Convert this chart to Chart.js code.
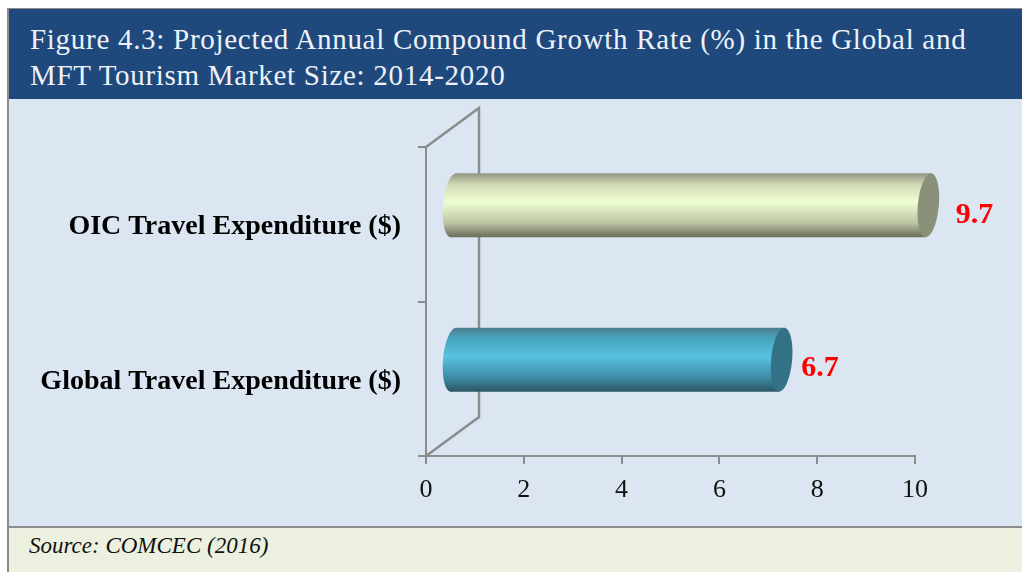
<!DOCTYPE html>
<html>
<head>
<meta charset="utf-8">
<script src="https://cdn.jsdelivr.net/npm/chart.js@4"></script>
<style>
  html, body { margin: 0; padding: 0; background: #fff; }
  #page { position: relative; width: 1022px; height: 572px; overflow: hidden; font-family: "Liberation Serif", serif; }
  #head { position: absolute; left: 9px; top: 9px; right: 0; height: 90px; background: #1f497d; color: #eef2f8; font-size: 29px; line-height: 36px; letter-spacing: 0.71px; }
  #head div { position: absolute; left: 21px; white-space: nowrap; }
  #plot { position: absolute; left: 9px; top: 99px; right: 0; height: 427px; background: #dce6f2; }
  #foot { position: absolute; left: 9px; top: 528px; right: 0; height: 44px; background: #ebf1de; color: #111; font-size: 23px; font-style: italic; }
  #foot span { position: absolute; left: 20px; top: 5px; white-space: nowrap; }
  #edgeL { position: absolute; left: 7px; top: 8px; width: 2px; bottom: 0; background: #8c8c8c; }
  #edgeT { position: absolute; left: 7px; top: 8px; right: 0; height: 1px; background: #8c8c8c; }
  #edgeB { position: absolute; left: 7px; top: 526px; right: 0; height: 2px; background: #8c8c8c; }
  canvas { position: absolute; left: 0; top: 0; }
</style>
</head>
<body>
<div id="page">
  <div id="head"><div style="top:12px">Figure 4.3: Projected Annual Compound Growth Rate (%) in the Global and</div><div style="top:48px">MFT Tourism Market Size: 2014-2020</div></div>
  <div id="plot"></div>
  <div id="foot"><span>Source: COMCEC (2016)</span></div>
  <div id="edgeL"></div><div id="edgeT"></div><div id="edgeB"></div>
  <canvas id="myChart" width="1022" height="572"></canvas>
</div>
<script>
const categories = ['OIC Travel Expenditure ($)', 'Global Travel Expenditure ($)'];
const growthRates = [9.7, 6.7];
const tubeStops = [
  ['#8f9482', '#d0d7b4', '#eeffd3', '#bcc3a2', '#676b59'],
  ['#4b7d90', '#48a5c0', '#57c2e2', '#3f8ba3', '#2b5566'],
];
const capColors = ['#8a917b', '#337286'];

const AXIS_GREY = '#8c8c8c';
const SERIF = '"Liberation Serif", serif';
const DEPTH_X = 53;
const DEPTH_Y = -39;
const labelGap = [17, 9];
const labelDrop = [10, 8];

// back wall of the fake 3d box
const wallPlugin = {
  id: 'wall',
  beforeDatasetsDraw(chart) {
    const { ctx, chartArea: a } = chart;
    ctx.save();
    ctx.strokeStyle = AXIS_GREY;
    ctx.lineWidth = 2.5;
    ctx.beginPath();
    ctx.moveTo(a.left, a.top);
    ctx.lineTo(a.left + DEPTH_X, a.top + DEPTH_Y);
    ctx.lineTo(a.left + DEPTH_X, a.bottom + DEPTH_Y);
    ctx.lineTo(a.left, a.bottom);
    ctx.stroke();
    ctx.restore();
  }
};

// bars come from the library, this turns each one into a tube
const tubePlugin = {
  id: 'tube',
  afterDatasetsDraw(chart) {
    const ctx = chart.ctx;
    chart.getDatasetMeta(0).data.forEach((bar, i) => {
      const x0 = bar.base + DEPTH_X / 2;
      const x1 = bar.x + DEPTH_X / 2 + 1.5;
      const cy = bar.y + DEPTH_Y / 2 + 0.5;
      const r = bar.height / 2;
      const rx = 10.5;
      const tilt = 0.09;
      const lean = r * Math.sin(tilt);

      const grad = ctx.createLinearGradient(0, cy - r, 0, cy + r);
      const stops = tubeStops[i];
      [0, 0.17, 0.45, 0.78, 1].forEach((p, k) => grad.addColorStop(p, stops[k]));

      ctx.save();
      ctx.fillStyle = grad;
      ctx.beginPath();
      ctx.ellipse(x0, cy, rx, r, tilt, 0, Math.PI * 2);
      ctx.fill();
      ctx.beginPath();
      ctx.moveTo(x0 + lean, cy - r);
      ctx.lineTo(x1 + lean, cy - r);
      ctx.lineTo(x1 - lean, cy + r);
      ctx.lineTo(x0 - lean, cy + r);
      ctx.closePath();
      ctx.fill();
      ctx.fillStyle = capColors[i];
      ctx.beginPath();
      ctx.ellipse(x1, cy, rx, r, tilt, 0, Math.PI * 2);
      ctx.fill();

      ctx.fillStyle = '#ff0000';
      ctx.font = 'bold 30px ' + SERIF;
      ctx.textAlign = 'left';
      ctx.textBaseline = 'middle';
      ctx.fillText(String(growthRates[i]), x1 + rx + labelGap[i], cy + labelDrop[i]);
      ctx.restore();
    });
  }
};

const config = {
  type: 'bar',
  data: {
    labels: categories,
    datasets: [{
      data: growthRates,
      backgroundColor: 'rgba(0,0,0,0)',
      categoryPercentage: 1,
      barPercentage: 0.415,
    }]
  },
  options: {
    indexAxis: 'y',
    responsive: false,
    animation: false,
    layout: { padding: { top: 147, right: 107, left: 0, bottom: 0 } },
    plugins: {
      legend: { display: false },
      tooltip: { enabled: false }
    },
    scales: {
      x: {
        min: 0,
        max: 10,
        afterFit(scale) { scale.height = 116; },
        ticks: { stepSize: 2, color: '#111', padding: 11, maxRotation: 0, font: { family: SERIF, size: 26 } },
        grid: { drawOnChartArea: false, color: AXIS_GREY, lineWidth: 2, tickLength: 8 },
        border: { color: AXIS_GREY, width: 2 }
      },
      y: {
        afterFit(scale) { scale.width = 426; },
        ticks: { color: '#000', padding: 17, labelOffset: 3, font: { family: SERIF, size: 28, weight: 'bold' } },
        grid: { drawOnChartArea: false, color: AXIS_GREY, lineWidth: 2, tickLength: 8 },
        border: { color: AXIS_GREY, width: 2 }
      }
    }
  },
  plugins: [wallPlugin, tubePlugin]
};

const myChart = new Chart(document.getElementById('myChart'), config);
</script>
</body>
</html>
